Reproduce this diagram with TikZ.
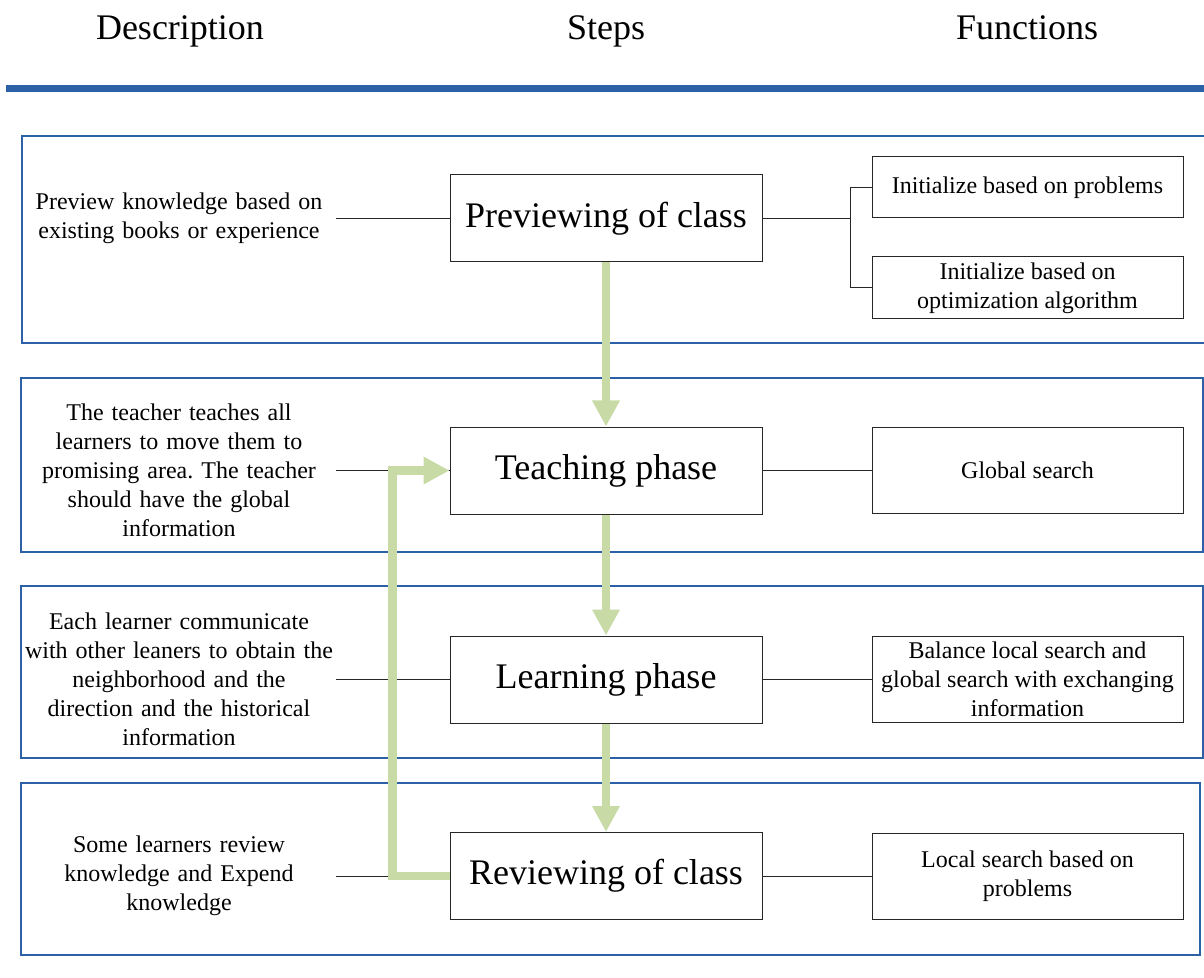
\documentclass[tikz,border=0pt]{standalone}
\usepackage{fontspec}
\setmainfont{Liberation Serif}
\usetikzlibrary{arrows.meta}
\definecolor{groupblue}{RGB}{44,96,167}
\definecolor{flowgreen}{RGB}{200,219,166}
\frenchspacing
\begin{document}
\begin{tikzpicture}[
    x=0.5pt, y=-0.5pt,
    head/.style={anchor=base, font=\fontsize{18}{22}\selectfont},
    group/.style={draw=groupblue, line width=1.2pt},
    stepbox/.style={rectangle, draw=black!85, line width=0.5pt, minimum width=156pt, minimum height=43.5pt, font=\fontsize{18}{22}\selectfont},
    funcbox/.style={rectangle, draw=black!85, line width=0.5pt, minimum width=155.5pt, minimum height=43pt, inner sep=1pt, align=center, font=\fontsize{12}{14.5}\selectfont},
    desc/.style={text width=157pt, inner sep=0pt, align=center, font=\fontsize{12}{14.5}\selectfont},
    link/.style={black!85, line width=0.5pt},
    flow/.style={flowgreen, line width=4.3pt, -{Triangle[width=13pt,length=13pt]}}
]
    \useasboundingbox (0,0) rectangle (1204,978);

    % Headings
    \node[head] (hdesc) at (180,40) {Description};
    \node[head] (hsteps) at (606,40) {Steps};
    \node[head] (hfunc) at (1027,40) {Functions};
    \draw[groupblue, line width=3.5pt] (6,88.5) -- (1210,88.5);

    % Groups
    \draw[group] (22,136) rectangle (1208,343);
    \draw[group] (21,378) rectangle (1203,552);
    \draw[group] (21,586) rectangle (1203,758);
    \draw[group] (21,783) rectangle (1200,955);

    % Steps
    \node[stepbox] (preview) at (606,218.5) {Previewing of class};
    \node[stepbox] (teach) at (606,470.5) {Teaching phase};
    \node[stepbox] (learn) at (606,679.5) {Learning phase};
    \node[stepbox] (review) at (606,876) {Reviewing of class};

    % Descriptions
    \node[desc] (dpreview) at (179,218.5) {Preview knowledge based on\\existing books or experience};
    \node[desc] (dteach) at (179,470.5) {The teacher teaches all\\learners to move them to\\promising area. The teacher\\should have the global\\information};
    \node[desc] (dlearn) at (179,679.5) {Each learner communicate\\with other leaners to obtain the\\neighborhood and the\\direction and the historical\\information};
    \node[desc] (dreview) at (179,876) {Some learners review\\knowledge and Expend\\knowledge};

    % Functions
    \node[funcbox, minimum height=30.5pt] (init1) at (1027.5,187.5) {Initialize based on problems};
    \node[funcbox, minimum height=31pt] (init2) at (1027.5,288) {Initialize based on\\optimization algorithm};
    \node[funcbox] (fteach) at (1027.5,470.5) {Global search};
    \node[funcbox] (flearn) at (1027.5,679.5) {Balance local search and\\global search with exchanging\\information};
    \node[funcbox] (freview) at (1027.5,876) {Local search based on\\problems};
    \coordinate (fork) at (850,218.5);

    % Links
    \draw[link] (dpreview) -- (preview);
    \draw[link] (dteach) -- (teach);
    \draw[link] (dlearn) -- (learn);
    \draw[link] (dreview) -- (review);
    \draw[link] (preview) -- (fork);
    \draw[link] (fork) |- (init1.west);
    \draw[link] (fork) |- (init2.west);
    \draw[link] (teach) -- (fteach);
    \draw[link] (learn) -- (flearn);
    \draw[link] (review) -- (freview);

    % Flow
    \draw[flow] (preview) -- (teach);
    \draw[flow] (teach) -- (learn);
    \draw[flow] (learn) -- (review);
    \draw[flow] (review.west) -- ++(-57,0) |- (teach.west);
\end{tikzpicture}
\end{document}
